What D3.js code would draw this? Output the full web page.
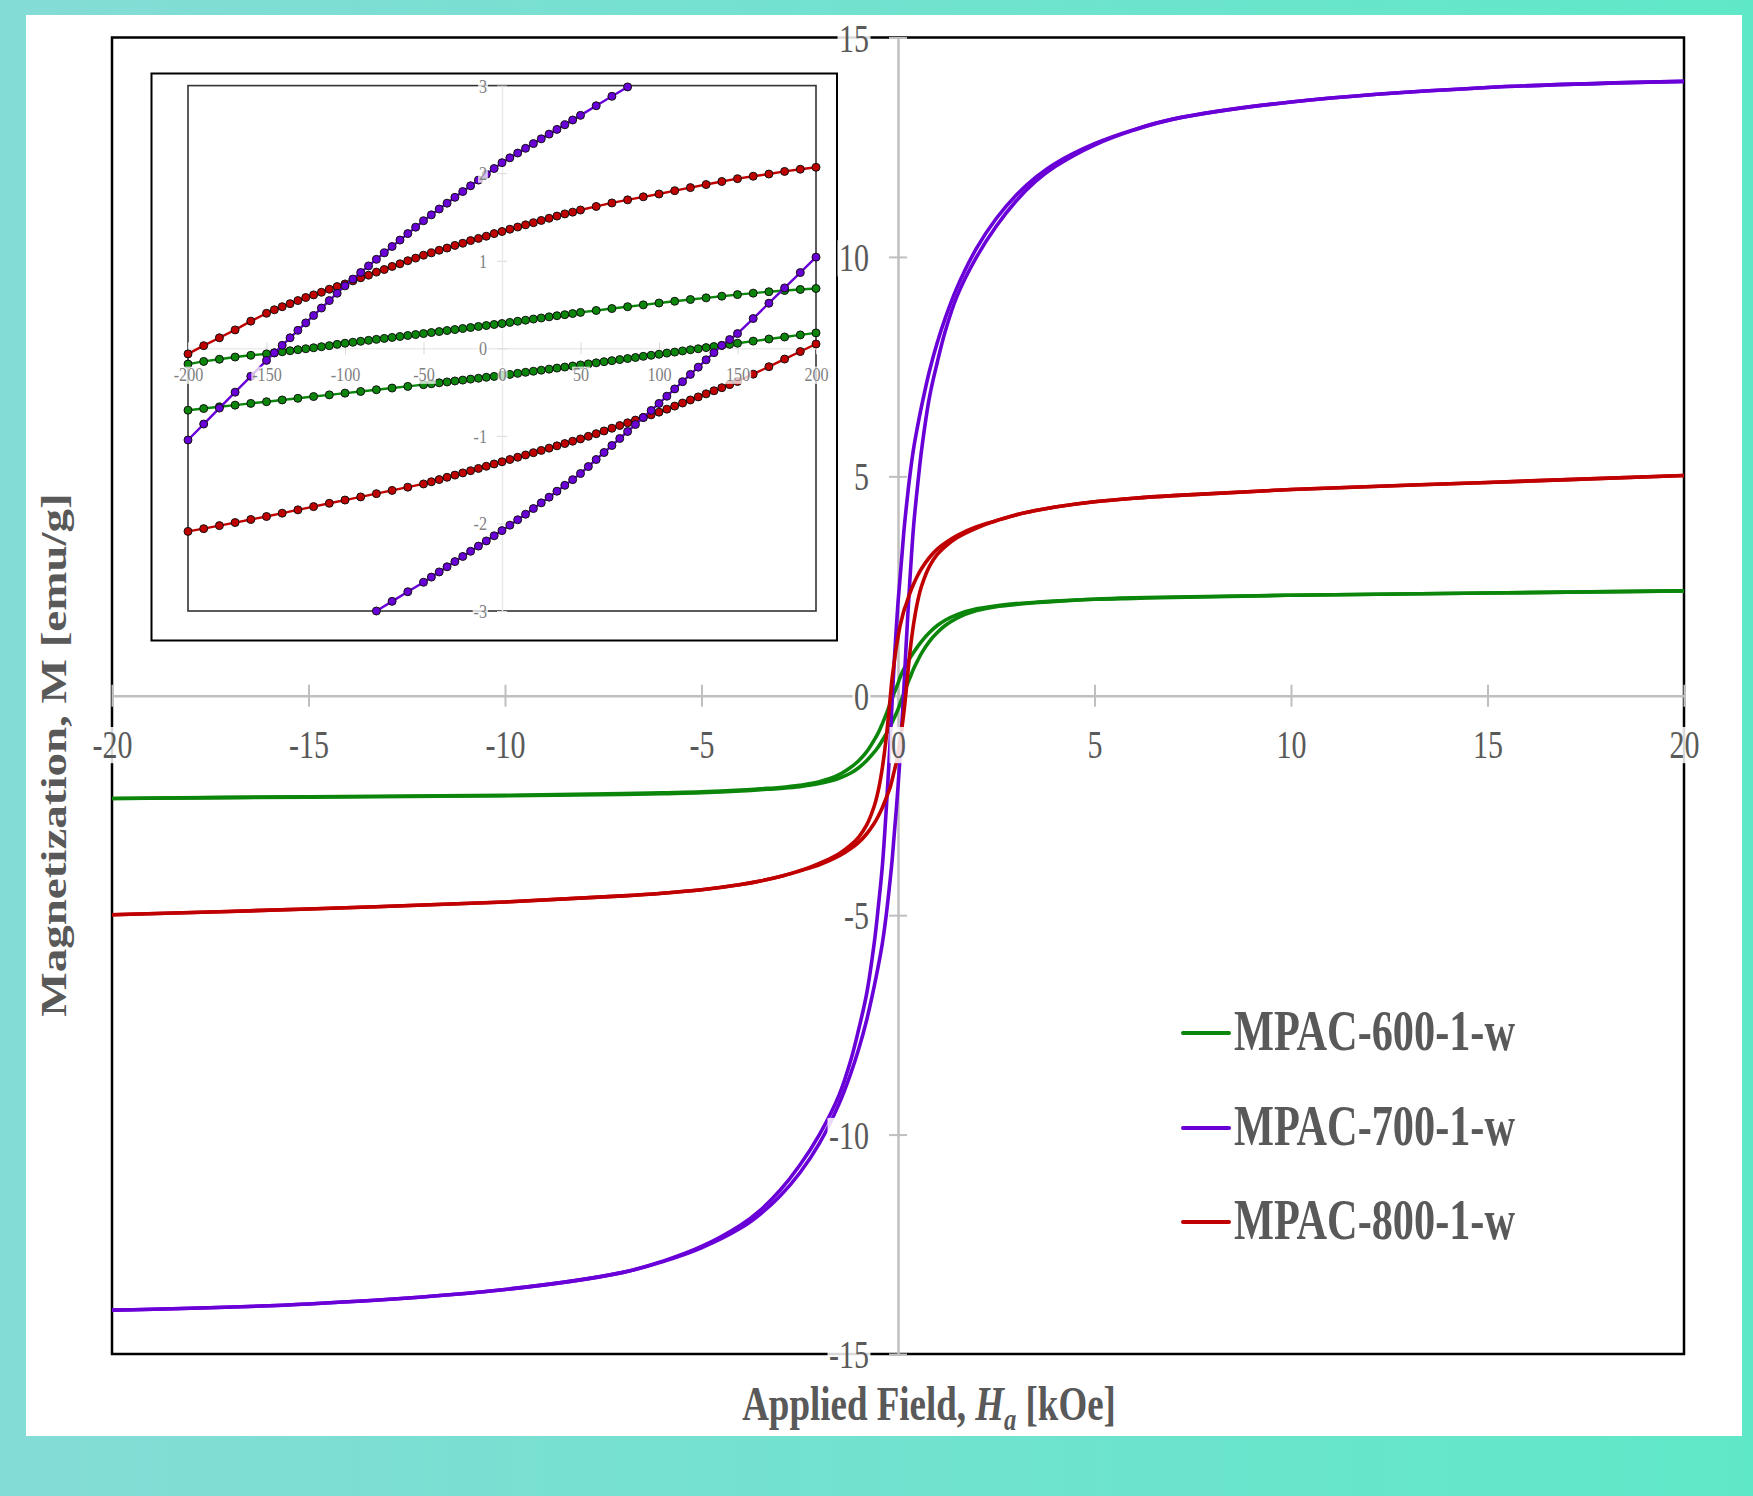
<!DOCTYPE html>
<html>
<head>
<meta charset="utf-8">
<script src="https://cdn.jsdelivr.net/npm/d3@7"></script>
<style>
  html, body { margin: 0; padding: 0; background: #fff; }
  svg { display: block; }
  text { font-family: "Liberation Serif", "Times New Roman", serif; }
</style>
</head>
<body>
<svg id="chart" width="1753" height="1496"></svg>
<script>
// ---- main loops: applied field (kOe) vs magnetization (emu/g) ----
const fieldKOe = [-20, -15, -10, -7, -6, -5, -4, -3.5, -3, -2.5, -2, -1.5, -1.2, -1, -0.8, -0.6, -0.5, -0.4, -0.3, -0.2, -0.15, -0.1, -0.05, 0, 0.05, 0.1, 0.15, 0.2, 0.3, 0.4, 0.5, 0.6, 0.8, 1, 1.2, 1.5, 2, 2.5, 3, 3.5, 4, 5, 6, 7, 10, 15, 20];

// descending branch (field going down) and ascending branch for each sample
const m600Down = [-2.34, -2.3, -2.27, -2.23, -2.21, -2.19, -2.15, -2.12, -2.09, -2.04, -1.96, -1.8, -1.63, -1.48, -1.28, -1.0, -0.84, -0.64, -0.42, -0.18, -0.064, 0.058, 0.168, 0.283, 0.41, 0.517, 0.613, 0.683, 0.85, 0.99, 1.12, 1.24, 1.44, 1.6, 1.72, 1.85, 1.98, 2.05, 2.1, 2.13, 2.16, 2.2, 2.22, 2.24, 2.29, 2.34, 2.39];
const m600Up = [-2.34, -2.31, -2.28, -2.25, -2.23, -2.21, -2.17, -2.14, -2.11, -2.07, -2.0, -1.88, -1.76, -1.64, -1.48, -1.28, -1.16, -1.02, -0.87, -0.707, -0.61, -0.512, -0.415, -0.31, -0.19, -0.068, 0.058, 0.176, 0.4, 0.62, 0.8, 0.97, 1.24, 1.44, 1.6, 1.77, 1.94, 2.03, 2.08, 2.12, 2.15, 2.2, 2.23, 2.25, 2.29, 2.34, 2.39];
const m700Down = [-14.0, -13.86, -13.53, -13.14, -12.89, -12.55, -12.06, -11.72, -11.27, -10.7, -10.0, -9.1, -8.3, -7.6, -6.8, -5.6, -4.8, -3.9, -2.6, -1.047, -0.138, 0.713, 1.457, 2.12, 2.66, 3.2, 3.75, 4.2, 5.0, 5.65, 6.15, 6.6, 7.4, 8.05, 8.6, 9.3, 10.2, 10.875, 11.4, 11.81, 12.13, 12.58, 12.9, 13.14, 13.53, 13.86, 14.0];
const m700Up = [-14.0, -13.86, -13.53, -13.14, -12.9, -12.58, -12.13, -11.81, -11.4, -10.875, -10.2, -9.3, -8.6, -8.05, -7.4, -6.6, -6.15, -5.65, -5.0, -4.2, -3.75, -3.2, -2.67, -2.08, -1.43, -0.63, 0.168, 1.04, 2.6, 3.9, 4.8, 5.6, 6.8, 7.6, 8.3, 9.1, 10.0, 10.7, 11.27, 11.72, 12.06, 12.55, 12.89, 13.14, 13.53, 13.86, 14.0];
const m800Down = [-4.99, -4.86, -4.7, -4.56, -4.5, -4.42, -4.3, -4.22, -4.12, -3.99, -3.82, -3.6, -3.4, -3.22, -2.95, -2.5, -2.15, -1.65, -0.96, -0.064, 0.40, 0.735, 1.063, 1.334, 1.579, 1.762, 1.937, 2.067, 2.33, 2.55, 2.74, 2.9, 3.15, 3.34, 3.48, 3.65, 3.85, 3.99, 4.12, 4.22, 4.3, 4.42, 4.5, 4.56, 4.7, 4.86, 5.02];
const m800Up = [-4.99, -4.86, -4.7, -4.56, -4.5, -4.42, -4.3, -4.22, -4.12, -3.99, -3.85, -3.65, -3.48, -3.34, -3.15, -2.9, -2.74, -2.55, -2.33, -2.091, -1.921, -1.733, -1.549, -1.296, -1.035, -0.729, -0.379, 0.049, 0.96, 1.65, 2.15, 2.5, 2.95, 3.22, 3.4, 3.6, 3.82, 3.99, 4.12, 4.22, 4.3, 4.42, 4.5, 4.56, 4.7, 4.86, 5.02];

// ---- inset: low field region, field in Oe ----
const fieldDownOe = [-200, -190, -180, -170, -160, -150, -145, -140, -135, -130, -125, -120, -115, -110, -105, -100, -95, -90, -85, -80, -75, -70, -65, -60, -55, -50, -45, -40, -35, -30, -25, -20, -15, -10, -5, 0, 5, 10, 15, 20, 25, 30, 35, 40, 45, 50, 60, 70, 80, 90, 100, 110, 120, 130, 140, 150, 160, 170, 180, 190, 200];
const fieldUpOe = [-200, -190, -180, -170, -160, -150, -140, -130, -120, -110, -100, -90, -80, -70, -60, -50, -45, -40, -35, -30, -25, -20, -15, -10, -5, 0, 5, 10, 15, 20, 25, 30, 35, 40, 45, 50, 55, 60, 65, 70, 75, 80, 85, 90, 95, 100, 105, 110, 115, 120, 125, 130, 135, 140, 145, 150, 160, 170, 180, 190, 200];
const fieldDown700Oe = [-200, -190, -180, -170, -160, -150, -145, -140, -135, -130, -125, -120, -115, -110, -105, -100, -95, -90, -85, -80, -75, -70, -65, -60, -55, -50, -45, -40, -35, -30, -25, -20, -15, -10, -5, 0, 5, 10, 15, 20, 25, 30, 35, 40, 45, 50, 60, 70, 80];
const fieldUp700Oe = [-80, -70, -60, -50, -45, -40, -35, -30, -25, -20, -15, -10, -5, 0, 5, 10, 15, 20, 25, 30, 35, 40, 45, 50, 55, 60, 65, 70, 75, 80, 85, 90, 95, 100, 105, 110, 115, 120, 125, 130, 135, 140, 145, 150, 160, 170, 180, 190, 200];

const m600DownInset = [-0.18, -0.15, -0.125, -0.10, -0.08, -0.064, -0.052, -0.04, -0.028, -0.016, -0.005, 0.006, 0.018, 0.03, 0.045, 0.058, 0.069, 0.08, 0.091, 0.102, 0.113, 0.124, 0.135, 0.146, 0.157, 0.168, 0.18, 0.191, 0.203, 0.214, 0.226, 0.237, 0.249, 0.26, 0.272, 0.283, 0.296, 0.309, 0.321, 0.334, 0.346, 0.359, 0.372, 0.384, 0.397, 0.41, 0.432, 0.454, 0.475, 0.496, 0.517, 0.537, 0.557, 0.576, 0.595, 0.613, 0.63, 0.646, 0.66, 0.672, 0.683];
const m600UpInset = [-0.707, -0.688, -0.668, -0.649, -0.629, -0.61, -0.59, -0.571, -0.551, -0.532, -0.512, -0.493, -0.473, -0.454, -0.435, -0.415, -0.405, -0.394, -0.384, -0.373, -0.363, -0.352, -0.342, -0.331, -0.321, -0.31, -0.298, -0.286, -0.274, -0.262, -0.25, -0.238, -0.226, -0.214, -0.202, -0.19, -0.178, -0.166, -0.153, -0.141, -0.129, -0.117, -0.105, -0.092, -0.08, -0.068, -0.055, -0.043, -0.03, -0.017, -0.005, 0.008, 0.02, 0.033, 0.045, 0.058, 0.082, 0.106, 0.129, 0.153, 0.176];
const m800DownInset = [-0.064, 0.03, 0.12, 0.21, 0.31, 0.40, 0.44, 0.475, 0.51, 0.545, 0.58, 0.61, 0.64, 0.675, 0.705, 0.735, 0.77, 0.805, 0.835, 0.87, 0.9, 0.935, 0.965, 1.0, 1.03, 1.063, 1.09, 1.12, 1.145, 1.175, 1.2, 1.23, 1.255, 1.28, 1.31, 1.334, 1.36, 1.385, 1.41, 1.435, 1.46, 1.485, 1.51, 1.535, 1.555, 1.579, 1.62, 1.66, 1.695, 1.73, 1.762, 1.8, 1.835, 1.87, 1.905, 1.937, 1.965, 1.99, 2.02, 2.045, 2.067];
const m800UpInset = [-2.091, -2.06, -2.025, -1.99, -1.955, -1.921, -1.883, -1.845, -1.808, -1.77, -1.733, -1.697, -1.66, -1.623, -1.586, -1.549, -1.524, -1.499, -1.473, -1.448, -1.423, -1.398, -1.372, -1.347, -1.321, -1.296, -1.27, -1.244, -1.218, -1.192, -1.166, -1.14, -1.114, -1.088, -1.061, -1.035, -1.005, -0.975, -0.944, -0.913, -0.882, -0.851, -0.82, -0.79, -0.76, -0.729, -0.695, -0.66, -0.625, -0.59, -0.555, -0.52, -0.485, -0.45, -0.415, -0.379, -0.295, -0.21, -0.123, -0.037, 0.049];
const m700DownInset = [-1.047, -0.865, -0.683, -0.501, -0.32, -0.138, -0.052, 0.034, 0.12, 0.205, 0.29, 0.375, 0.46, 0.545, 0.629, 0.713, 0.79, 0.866, 0.941, 1.016, 1.09, 1.163, 1.236, 1.31, 1.383, 1.457, 1.524, 1.591, 1.657, 1.724, 1.79, 1.856, 1.921, 1.987, 2.053, 2.12, 2.175, 2.23, 2.284, 2.338, 2.392, 2.446, 2.5, 2.553, 2.607, 2.66, 2.77, 2.878, 2.985];
const m700UpInset = [-3.0, -2.89, -2.78, -2.672, -2.613, -2.554, -2.495, -2.436, -2.377, -2.318, -2.259, -2.2, -2.141, -2.082, -2.02, -1.958, -1.895, -1.83, -1.765, -1.7, -1.632, -1.565, -1.5, -1.43, -1.35, -1.27, -1.19, -1.11, -1.03, -0.95, -0.87, -0.79, -0.71, -0.63, -0.547, -0.464, -0.381, -0.298, -0.215, -0.132, -0.05, 0.033, 0.1, 0.168, 0.34, 0.515, 0.69, 0.865, 1.041];

const sampleNames = ["MPAC-600-1-w", "MPAC-700-1-w", "MPAC-800-1-w"];
const sampleColors = ["#0b860b", "#6a00d8", "#c00000"];
const xTicks = [-20, -15, -10, -5, 0, 5, 10, 15, 20];
const yTicks = [-15, -10, -5, 0, 5, 10, 15];
const xTicksInset = [-200, -150, -100, -50, 0, 50, 100, 150, 200];
const yTicksInset = [-3, -2, -1, 0, 1, 2, 3];

const width = 1753, height = 1496;
const labelGray = "#595959";
const squeeze = 0.75; // the original figure's lettering is narrow
const plain = d => String(d); // hyphen minus, no decimals

const svg = d3.select("#chart");
const color = d3.scaleOrdinal().domain(sampleNames).range(sampleColors);

const x = d3.scaleLinear().domain([-20, 20]).range([112, 1684]);
const y = d3.scaleLinear().domain([-15, 15]).range([1354, 37.5]);
const xi = d3.scaleLinear().domain([-200, 200]).range([188, 816]);
const yi = d3.scaleLinear().domain([-3, 3]).range([611, 85.6]);

const zip = (hs, ms) => hs.map((h, i) => [h, ms[i]]);

const mainLoops = [
  { name: sampleNames[0], branches: [zip(fieldKOe, m600Down), zip(fieldKOe, m600Up)] },
  { name: sampleNames[1], branches: [zip(fieldKOe, m700Down), zip(fieldKOe, m700Up)] },
  { name: sampleNames[2], branches: [zip(fieldKOe, m800Down), zip(fieldKOe, m800Up)] }
];
const insetLoops = [
  { name: sampleNames[0], branches: [zip(fieldDownOe, m600DownInset), zip(fieldUpOe, m600UpInset)] },
  { name: sampleNames[2], branches: [zip(fieldDownOe, m800DownInset), zip(fieldUpOe, m800UpInset)] },
  { name: sampleNames[1], branches: [zip(fieldDown700Oe, m700DownInset), zip(fieldUp700Oe, m700UpInset)] }
];

drawBackground();
const axisLines = svg.append("g");
drawMainAxisLines();
drawMainLoops();
drawInset();
drawMainAxisLabels();
drawLegend();
drawTitles();

// white, slightly see-through boxes behind tick labels (they sit over lines in the original)
function boxBehind(texts, pad, opacity) {
  texts.each(function () {
    const b = this.getBBox();
    d3.select(this.parentNode).insert("rect", () => this)
      .attr("x", b.x - pad)
      .attr("y", b.y + b.height * 0.12)
      .attr("width", b.width + pad * 2)
      .attr("height", b.height * 0.8)
      .attr("transform", d3.select(this).attr("transform"))
      .attr("fill", "#fff")
      .attr("opacity", opacity);
  });
}

function drawBackground() {
  const grad = svg.append("defs").append("linearGradient")
    .attr("id", "bg").attr("x1", "0%").attr("x2", "100%").attr("y1", "0%").attr("y2", "0%");
  grad.append("stop").attr("offset", "0%").attr("stop-color", "#84dcd6");
  grad.append("stop").attr("offset", "100%").attr("stop-color", "#5fe8c8");
  svg.append("rect").attr("width", width).attr("height", height).attr("fill", "url(#bg)");
  svg.append("rect").attr("x", 26).attr("y", 15).attr("width", 1716).attr("height", 1421).attr("fill", "#fff");

  svg.append("rect")
    .attr("x", x(-20)).attr("y", y(15))
    .attr("width", x(20) - x(-20)).attr("height", y(-15) - y(15))
    .attr("fill", "none").attr("stroke", "#000").attr("stroke-width", 2.5);
}

function drawMainAxisLines() {
  const xAxis = axisLines.append("g")
    .attr("transform", `translate(0, ${y(0)})`)
    .call(d3.axisBottom(x).tickValues(xTicks).tickSize(11).tickSizeOuter(0));
  const yAxis = axisLines.append("g")
    .attr("transform", `translate(${x(0)}, 0)`)
    .call(d3.axisLeft(y).tickValues(yTicks).tickSize(9).tickSizeOuter(0));

  [xAxis, yAxis].forEach(a => {
    a.selectAll("text").remove();
    a.select(".domain").attr("stroke", "#bfbfbf").attr("stroke-width", 2.5);
    a.selectAll(".tick line").attr("stroke", "#bfbfbf").attr("stroke-width", 2);
  });
  xAxis.selectAll(".tick line").attr("y1", -11);
  yAxis.selectAll(".tick line").attr("x1", 9);
}

function drawMainLoops() {
  const line = d3.line()
    .x(d => x(d[0]))
    .y(d => y(d[1]))
    .curve(d3.curveCatmullRom.alpha(0.5));

  const loops = svg.append("g").selectAll("g").data(mainLoops).join("g");
  loops.selectAll("path")
    .data(d => d.branches.map(b => ({ name: d.name, points: b })))
    .join("path")
    .attr("d", d => line(d.points))
    .attr("fill", "none")
    .attr("stroke", d => color(d.name))
    .attr("stroke-width", 3.6);
}

function drawInset() {
  const inset = svg.append("g");
  inset.append("rect")
    .attr("x", 151.5).attr("y", 73.5).attr("width", 685.5).attr("height", 567)
    .attr("fill", "#fff").attr("stroke", "#000").attr("stroke-width", 2);
  inset.append("rect")
    .attr("x", xi(-200)).attr("y", yi(3))
    .attr("width", xi(200) - xi(-200)).attr("height", yi(-3) - yi(3))
    .attr("fill", "none").attr("stroke", "#333").attr("stroke-width", 1.6);

  const xAxis = inset.append("g")
    .attr("transform", `translate(0, ${yi(0)})`)
    .call(d3.axisBottom(xi).tickValues(xTicksInset).tickSize(6).tickSizeOuter(0));
  const yAxis = inset.append("g")
    .attr("transform", `translate(${xi(0)}, 0)`)
    .call(d3.axisLeft(yi).tickValues(yTicksInset).tickSize(5).tickSizeOuter(0));
  [xAxis, yAxis].forEach(a => {
    a.select(".domain").attr("stroke", "#ebebeb").attr("stroke-width", 1.5);
    a.selectAll(".tick line").attr("stroke", "#d9d9d9").attr("stroke-width", 1);
    a.selectAll("text").remove();
  });
  xAxis.selectAll(".tick line").attr("y1", -6);
  yAxis.selectAll(".tick line").attr("x1", 5);

  const line = d3.line().x(d => xi(d[0])).y(d => yi(d[1]));
  insetLoops.forEach(loop => {
    const g = inset.append("g");
    loop.branches.forEach(b => {
      g.append("path")
        .attr("d", line(b))
        .attr("fill", "none")
        .attr("stroke", color(loop.name))
        .attr("stroke-width", 2.4);
      g.selectAll(null).data(b).join("circle")
        .attr("cx", d => xi(d[0]))
        .attr("cy", d => yi(d[1]))
        .attr("r", 4)
        .attr("fill", color(loop.name))
        .attr("stroke", "#111")
        .attr("stroke-width", 1);
    });
  });

  // tick labels of the inset, on top of the data
  const xLab = inset.append("g")
    .attr("transform", `translate(0, ${yi(0)})`)
    .call(d3.axisBottom(xi).tickValues(xTicksInset).tickFormat(plain).tickSize(0).tickSizeOuter(0));
  const yLab = inset.append("g")
    .attr("transform", `translate(${xi(0)}, 0)`)
    .call(d3.axisLeft(yi).tickValues(yTicksInset).tickFormat(plain).tickSize(0).tickSizeOuter(0));
  [xLab, yLab].forEach(a => {
    a.select(".domain").remove();
    a.selectAll(".tick line").remove();
    a.selectAll("text")
      .attr("font-family", "Liberation Serif")
      .attr("font-size", 19)
      .attr("fill", "#808080")
      .attr("transform", "scale(0.85,1)");
  });
  xLab.selectAll("text").attr("y", 33).attr("dy", 0);
  yLab.selectAll("text").attr("x", -15 / 0.85).attr("dy", "0.34em");
  boxBehind(xLab.selectAll("text"), 1, 0.75);
  boxBehind(yLab.selectAll("text"), 1, 0.75);
}

function drawMainAxisLabels() {
  const xLab = svg.append("g")
    .attr("transform", `translate(0, ${y(0)})`)
    .call(d3.axisBottom(x).tickValues(xTicks).tickFormat(plain).tickSize(0).tickSizeOuter(0));
  const yLab = svg.append("g")
    .attr("transform", `translate(${x(0)}, 0)`)
    .call(d3.axisLeft(y).tickValues(yTicks).tickFormat(plain).tickSize(0).tickSizeOuter(0));
  [xLab, yLab].forEach(a => {
    a.select(".domain").remove();
    a.selectAll(".tick line").remove();
    a.selectAll("text")
      .attr("font-family", "Liberation Serif")
      .attr("font-size", 40)
      .attr("fill", labelGray)
      .attr("transform", `scale(${squeeze},1)`);
  });
  xLab.selectAll("text").attr("y", 62).attr("dy", 0);
  yLab.selectAll("text").attr("x", -29 / squeeze).attr("dy", "0.34em");
  boxBehind(xLab.selectAll("text"), 2, 0.85);
  boxBehind(yLab.selectAll("text"), 2, 0.85);
}

function drawLegend() {
  const rowY = [1033, 1128, 1222];
  const legend = svg.append("g").selectAll("g").data(sampleNames).join("g")
    .attr("transform", (d, i) => `translate(1183, ${rowY[i]})`);
  legend.append("line")
    .attr("x1", 0).attr("x2", 46)
    .attr("stroke", d => color(d))
    .attr("stroke-width", 4)
    .attr("stroke-linecap", "round");
  legend.append("text")
    .attr("transform", "translate(51, 17) scale(0.755,1)")
    .attr("font-size", 56)
    .attr("font-weight", "bold")
    .attr("fill", labelGray)
    .text(d => d);
}

function drawTitles() {
  const xt = svg.append("text")
    .attr("transform", "translate(929, 1420) scale(0.77,1)")
    .attr("text-anchor", "middle")
    .attr("font-size", 48)
    .attr("font-weight", "bold")
    .attr("fill", labelGray);
  xt.append("tspan").text("Applied Field, ");
  xt.append("tspan").attr("font-style", "italic").text("H");
  xt.append("tspan").attr("font-style", "italic").attr("font-size", 32).attr("dy", 10).text("a");
  xt.append("tspan").attr("dy", -10).text(" [kOe]");

  svg.append("text")
    .attr("transform", `translate(66, 755) scale(${squeeze},1) rotate(-90)`)
    .attr("text-anchor", "middle")
    .attr("font-size", 47)
    .attr("font-weight", "bold")
    .attr("fill", labelGray)
    .text("Magnetization, M [emu/g]");
}
</script>
</body>
</html>
